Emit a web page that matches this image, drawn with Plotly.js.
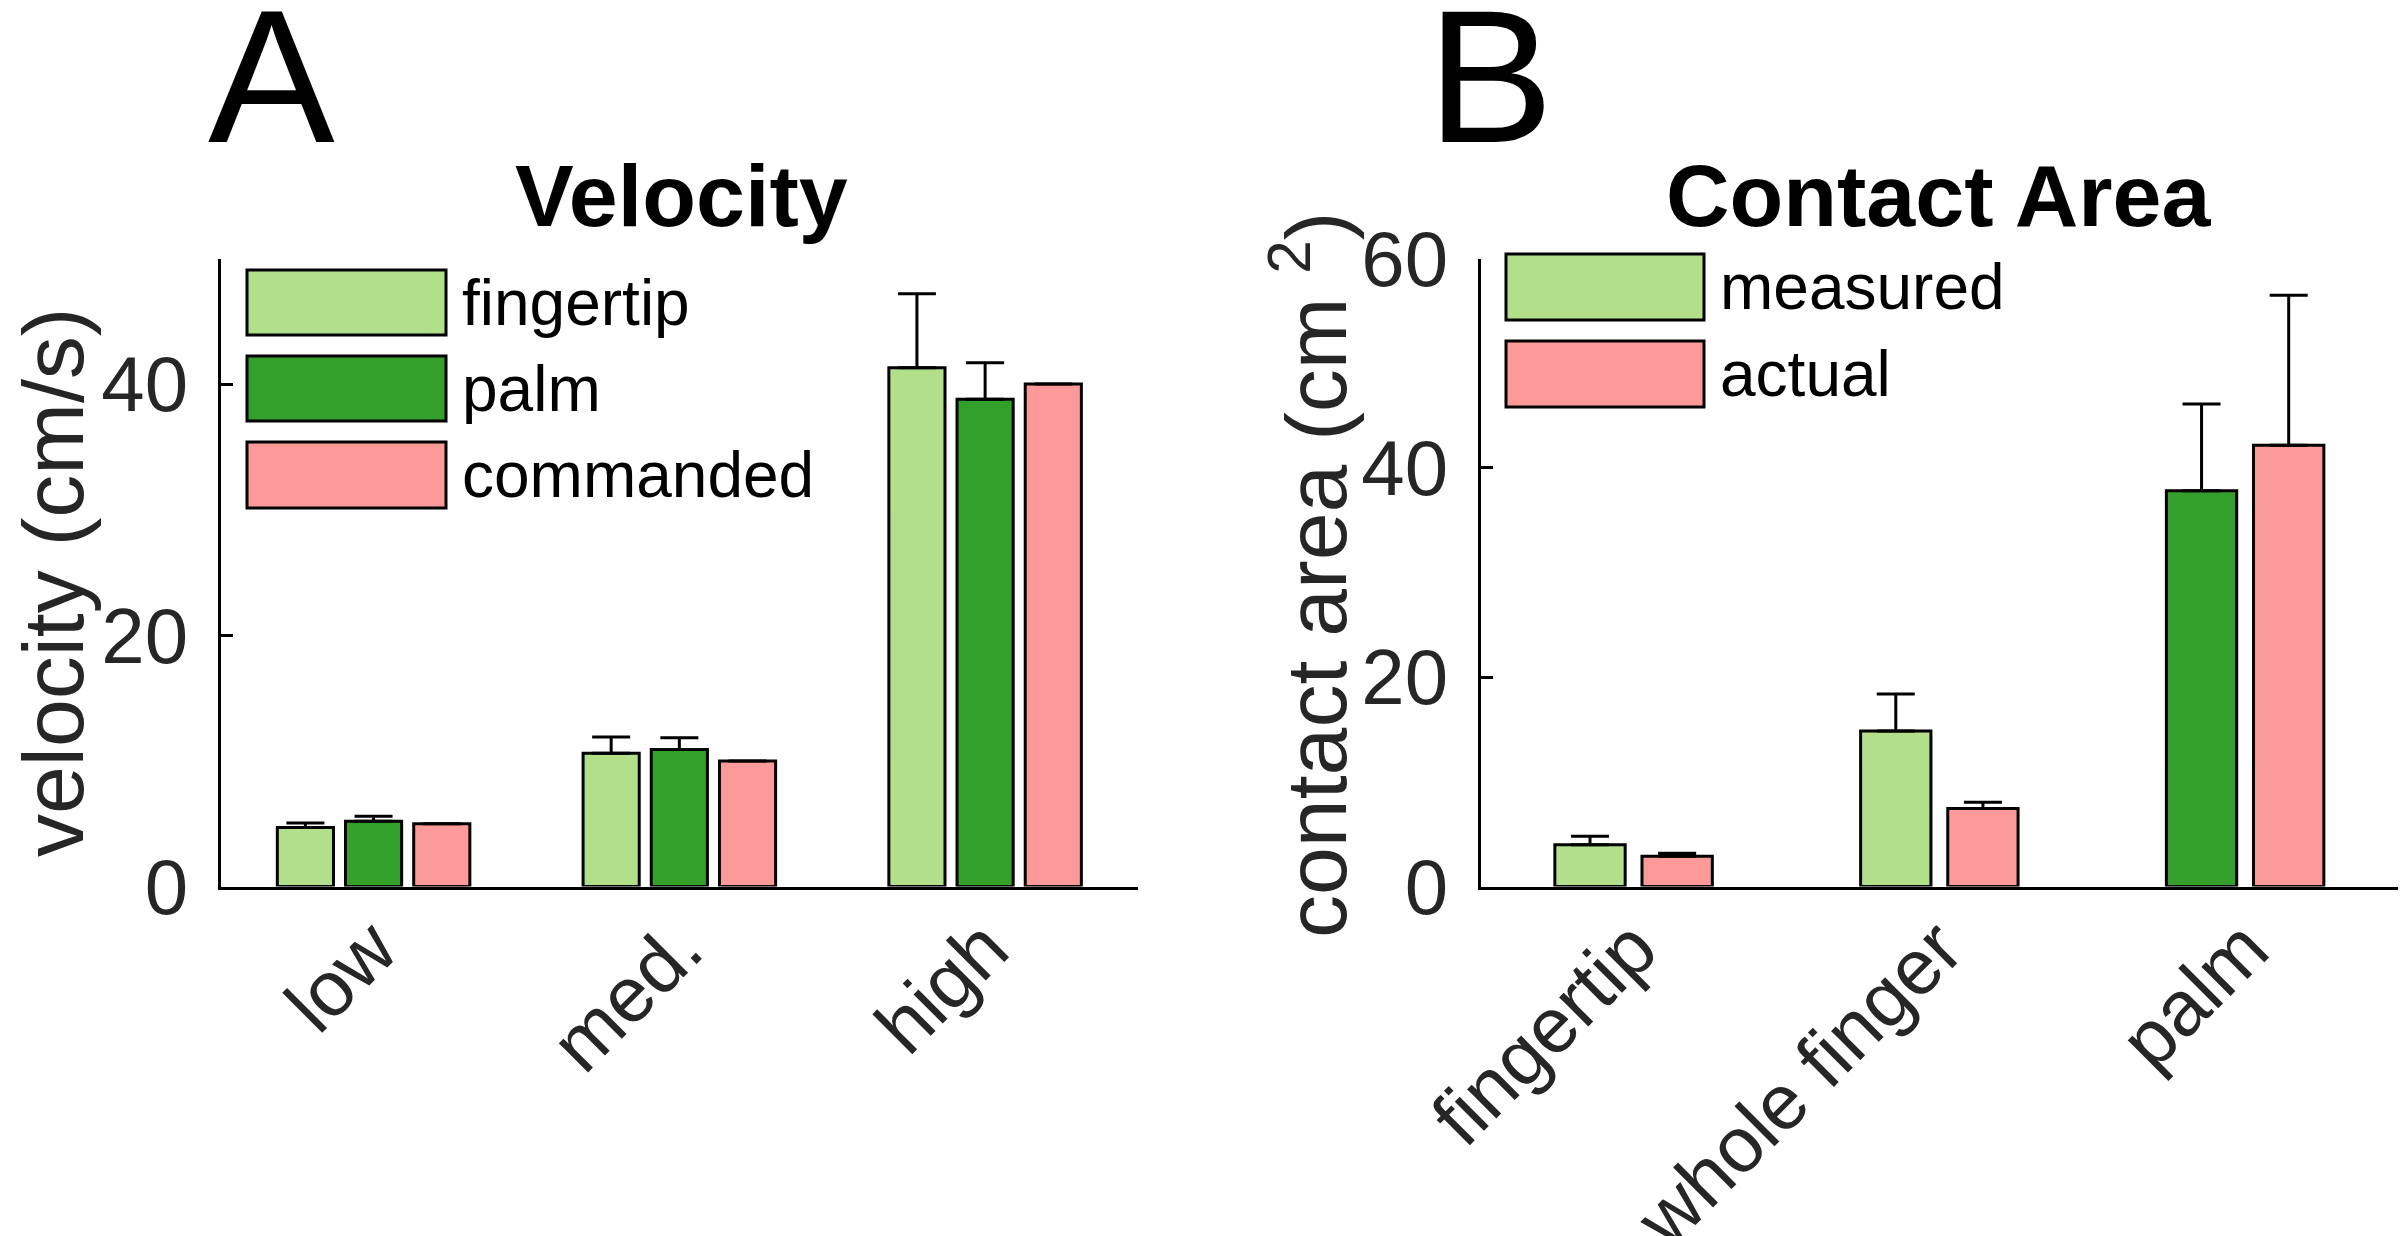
<!DOCTYPE html>
<html>
<head>
<meta charset="utf-8">
<script src="https://cdn.plot.ly/plotly-3.0.1.min.js"></script>
<style>
  body { margin: 0; background: #fff; }
  #myDiv { width: 2400px; height: 1236px; }
</style>
</head>
<body>
<div id="myDiv"></div>
<script>
// panel A - velocity
var speedCats = ['low', 'med.', 'high'];
var fingertipVel = [4.7, 10.6, 41.3];
var fingertipVelErr = [0.35, 1.3, 5.9];
var palmVel = [5.2, 10.9, 38.8];
var palmVelErr = [0.4, 0.95, 2.9];
var commandedVel = [5, 10, 40];
var commandedVelErr = [0, 0, 0];

// panel B - contact area
var areaCats = ['fingertip', 'whole finger', 'palm'];
var measuredArea = [4.0, 14.85, 37.8];
var measuredAreaErr = [0.8, 3.55, 8.3];
var actualArea = [2.9, 7.45, 42.15];
var actualAreaErr = [0.27, 0.6, 14.35];

var velTicks = [0, 20, 40];
var areaTicks = [0, 20, 40, 60];

var lightGreen = '#b2df8a';
var darkGreen = '#33a02c';
var pink = '#fb9a99';
var measuredColors = [lightGreen, lightGreen, darkGreen];

var FONT = 'Liberation Sans, Arial, Helvetica, sans-serif';
var W = 2400, H = 1236;
function px(x) { return x / W; }
function py(y) { return 1 - y / H; }

function barTrace(x, y, err, color, xa, ya, offset, width) {
  return {
    type: 'bar',
    x: x,
    y: y,
    xaxis: xa,
    yaxis: ya,
    offset: offset,
    width: width,
    showlegend: false,
    hoverinfo: 'none',
    marker: { color: color, line: { color: '#000', width: 3 } },
    error_y: {
      type: 'data',
      symmetric: false,
      array: err,
      arrayminus: err.map(function () { return 0; }),
      color: '#000',
      thickness: 3,
      width: 19
    }
  };
}

var wA = 0.1836, stepA = 0.223;
var wB = 0.23, stepB = 0.285;

var data = [
  barTrace(speedCats, fingertipVel, fingertipVelErr, lightGreen, 'x', 'y', -stepA - wA / 2, wA),
  barTrace(speedCats, palmVel, palmVelErr, darkGreen, 'x', 'y', -wA / 2, wA),
  barTrace(speedCats, commandedVel, commandedVelErr, pink, 'x', 'y', stepA - wA / 2, wA),
  barTrace(areaCats, measuredArea, measuredAreaErr, measuredColors, 'x2', 'y2', -stepB / 2 - wB / 2, wB),
  barTrace(areaCats, actualArea, actualAreaErr, pink, 'x2', 'y2', stepB / 2 - wB / 2, wB)
];

var yDom = [py(886.5), py(258.5)];

function xAxis(dom, anchor) {
  return {
    domain: dom,
    anchor: anchor,
    type: 'category',
    range: [-0.5, 2.5],
    showline: true,
    linecolor: '#000',
    linewidth: 3,
    ticks: '',
    showgrid: false,
    zeroline: false,
    tickangle: -45,
    ticklabelstandoff: -18,
    tickfont: { family: FONT, size: 78, color: '#262626' },
    fixedrange: true
  };
}
function yAxis(range, ticks, anchor) {
  return {
    domain: yDom,
    anchor: anchor,
    range: range,
    tickvals: ticks,
    ticks: 'inside',
    ticklen: 12,
    tickwidth: 3,
    tickcolor: '#000',
    showline: true,
    linecolor: '#000',
    linewidth: 3,
    showgrid: false,
    zeroline: false,
    ticklabelstandoff: 14,
    tickfont: { family: FONT, size: 78, color: '#262626' },
    fixedrange: true
  };
}

// legends drawn by hand: big swatches like the original
var shapes = [];
var annotations = [];
function legendItem(x0, x1, y0, y1, color, label) {
  shapes.push({
    type: 'rect', xref: 'paper', yref: 'paper',
    x0: px(x0), x1: px(x1), y0: py(y1), y1: py(y0),
    fillcolor: color, line: { color: '#000', width: 3 }
  });
  annotations.push({
    xref: 'paper', yref: 'paper', x: px(x1 + 14), y: py((y0 + y1) / 2),
    xanchor: 'left', yanchor: 'middle', showarrow: false,
    text: label, font: { family: FONT, size: 64, color: '#000' }
  });
}
legendItem(247, 446, 270, 335, lightGreen, 'fingertip');
legendItem(247, 446, 356, 421, darkGreen, 'palm');
legendItem(247, 446, 442, 508, pink, 'commanded');
legendItem(1506, 1704, 254, 320, lightGreen, 'measured');
legendItem(1506, 1704, 341, 407, pink, 'actual');

function label(x, y, text, size, opts) {
  var a = {
    xref: 'paper', yref: 'paper', x: px(x), y: py(y),
    xanchor: 'center', yanchor: 'middle', showarrow: false,
    text: text, font: { family: FONT, size: size, color: '#000' }
  };
  for (var k in opts) a[k] = opts[k];
  annotations.push(a);
}
label(271, 76, 'A', 190);
label(1490, 76, 'B', 190);
label(681, 195, '<b>Velocity</b>', 88);
label(1939, 195, '<b>Contact Area</b>', 88);
label(53, 583, 'velocity (cm/s)', 86, { textangle: -90, font: { family: FONT, size: 86, color: '#262626' } });
label(1310, 575, 'contact area (cm <sup>2</sup>)', 86, { textangle: -90, font: { family: FONT, size: 86, color: '#262626' } });

var layout = {
  width: W,
  height: H,
  margin: { l: 0, r: 0, t: 0, b: 0 },
  paper_bgcolor: '#fff',
  plot_bgcolor: 'rgba(0,0,0,0)',
  barmode: 'overlay',
  showlegend: false,
  xaxis: xAxis([px(220.7), px(1138)], 'y'),
  yaxis: yAxis([0, 50], velTicks, 'x'),
  xaxis2: xAxis([px(1480.7), px(2398)], 'y2'),
  yaxis2: yAxis([0, 60], areaTicks, 'x2'),
  shapes: shapes,
  annotations: annotations
};

Plotly.newPlot('myDiv', data, layout, { staticPlot: true });
</script>
</body>
</html>
